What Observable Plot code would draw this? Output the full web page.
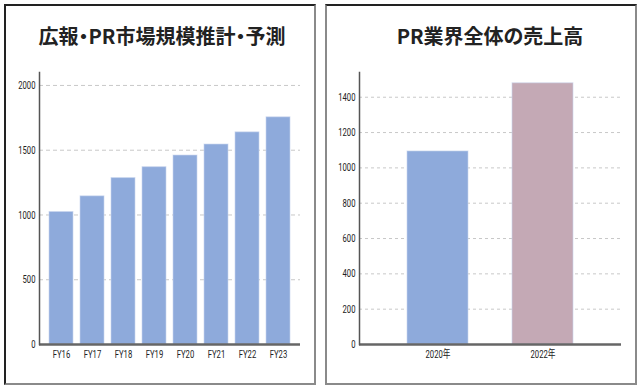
<!DOCTYPE html>
<html>
<head>
<meta charset="utf-8">
<script src="https://cdn.jsdelivr.net/npm/d3@7"></script>
<script src="https://cdn.jsdelivr.net/npm/@observablehq/plot@0.6"></script>
<style>
  html, body { margin: 0; padding: 0; background: #fff; }
  #wrap { position: relative; width: 640px; height: 390px; overflow: hidden; }
  .panel { position: absolute; top: 4px; height: 381px; box-sizing: border-box;
           border: 2px solid #8a8a8a; border-top-color: #222; }
  #p1 { left: 4px; width: 312px; border-left-color: #222; }
  #p2 { left: 325px; width: 312px; }
  .title { position: absolute; top: 24px; font-family: "Noto Sans CJK JP", sans-serif;
           font-weight: 700; font-size: 20px; color: #222; text-align: center; line-height: 24px;
           white-space: nowrap; }
  #t1 { left: 0; width: 324px; font-feature-settings: "palt"; }
  #t2 { left: 320px; width: 340px; font-feature-settings: "palt"; }
  .chart { position: absolute; top: 60px; }
  #c1 { left: 0; }
  #c2 { left: 320px; }
  .chart svg text { font-family: Roboto, "Noto Sans CJK JP", sans-serif; }
</style>
</head>
<body>
<div id="wrap">
  <div class="panel" id="p1"></div>
  <div class="panel" id="p2"></div>
  <div class="title" id="t1">広報・PR市場規模推計・予測</div>
  <div class="title" id="t2">PR業界全体の売上高</div>
  <div class="chart" id="c1"></div>
  <div class="chart" id="c2"></div>
</div>
<script>
// Left chart data
const marketYears = ["FY16", "FY17", "FY18", "FY19", "FY20", "FY21", "FY22", "FY23"];
const marketValues = [1023, 1144, 1285, 1369, 1459, 1544, 1638, 1754];
const marketTicks = [0, 500, 1000, 1500, 2000];

// Right chart data
const salesYears = ["2020年", "2022年"];
const salesValues = [1093, 1479];
const salesColors = ["#8eaadb", "#c4a9b5"];
const salesTicks = [0, 200, 400, 600, 800, 1000, 1200, 1400];

const market = marketYears.map((y, i) => ({year: y, value: marketValues[i]}));
const sales = salesYears.map((y, i) => ({year: y, value: salesValues[i], color: salesColors[i]}));

function condense(svg) {
  svg.querySelectorAll("text").forEach(t => {
    let tr = t.getAttribute("transform");
    if (!tr) {
      const x = t.getAttribute("x") || 0, y = t.getAttribute("y") || 0;
      t.removeAttribute("x"); t.removeAttribute("y");
      tr = `translate(${x},${y})`;
    }
    t.setAttribute("transform", tr + " scale(0.7,1)");
  });
  return svg;
}

function makeChart(data, opts) {
  return condense(Plot.plot({
    width: 320,
    height: 310,
    marginTop: 12,
    marginBottom: 26,
    marginLeft: 39,
    marginRight: opts.marginRight,
    style: {fontSize: "11px", color: "#222", background: "transparent"},
    x: {domain: data.map(d => d.year), padding: opts.padding, insetLeft: opts.inset, insetRight: opts.inset, label: null},
    y: {domain: [0, opts.max], label: null},
    marks: [
      Plot.ruleY(opts.ticks.filter(t => t > 0), {stroke: "#c8c8c8", strokeDasharray: opts.dash, strokeWidth: 1}),
      Plot.barY(data, {x: "year", y: "value", fill: opts.fill, stroke: "#c9d6ee", strokeOpacity: 0.6, strokeWidth: 1}),
      Plot.ruleY([0], {stroke: "#666", strokeWidth: 2.5}),
      Plot.frame({anchor: "left", stroke: "#555", strokeWidth: 1.5}),
      Plot.axisY({ticks: opts.ticks, tickFormat: "d", tickSize: 0, tickPadding: 4, label: null, fill: "#222"}),
      Plot.axisX({tickSize: 0, tickPadding: 6, label: null, fill: "#222"})
    ]
  }));
}

document.getElementById("c1").append(makeChart(market, {
  marginRight: 20, padding: 0.21, inset: 2.5, max: 2100, ticks: marketTicks,
  fill: "#8eaadb", dash: "4,3"
}));
document.getElementById("c2").append(makeChart(sales, {
  marginRight: 19, padding: 0.42, inset: 3, max: 1540, ticks: salesTicks,
  fill: "color", dash: "3,3"
}));
</script>
</body>
</html>
